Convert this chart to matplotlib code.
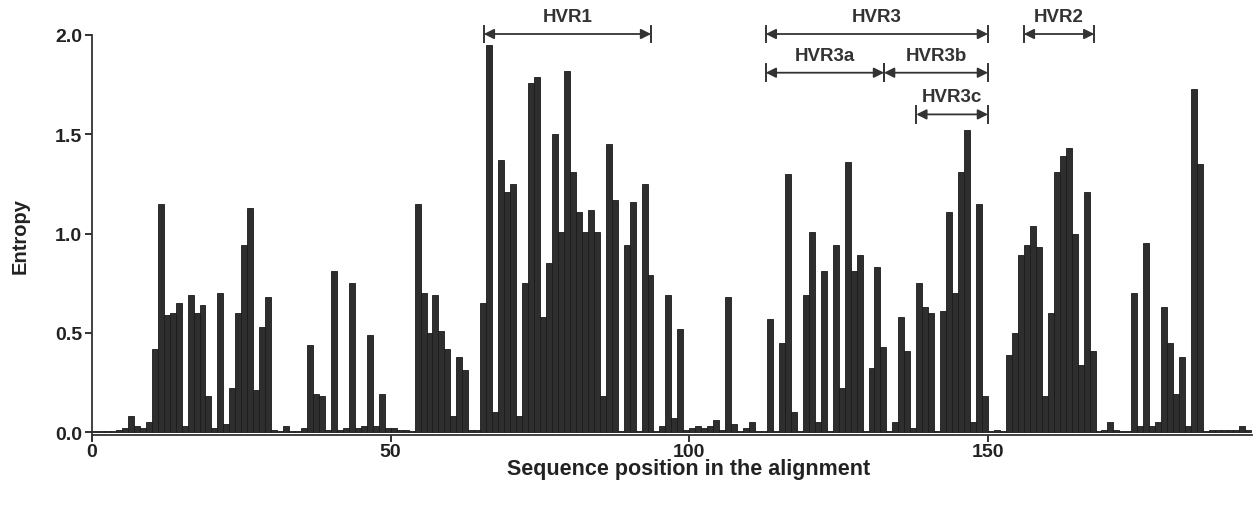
import matplotlib
matplotlib.use("Agg")
import matplotlib.pyplot as plt
import numpy as np

plt.rcParams['font.family'] = ['Liberation Sans', 'DejaVu Sans']
plt.rcParams['font.weight'] = 'bold'

# Entropy per alignment position (bar k spans [k, k+1])
entropy = [
    0.005, 0.005, 0.005, 0.005, 0.01, 0.02, 0.08, 0.03, 0.02, 0.05,   # 0-9
    0.42, 1.15, 0.59, 0.60, 0.65, 0.03, 0.69, 0.60, 0.64, 0.18,       # 10-19
    0.02, 0.70, 0.04, 0.22, 0.60, 0.94, 1.13, 0.21, 0.53, 0.68,       # 20-29
    0.01, 0.005, 0.03, 0.005, 0.005, 0.02, 0.44, 0.19, 0.18, 0.01,    # 30-39
    0.81, 0.01, 0.02, 0.75, 0.02, 0.03, 0.49, 0.03, 0.19, 0.02,       # 40-49
    0.02, 0.01, 0.01, 0.005, 1.15, 0.70, 0.50, 0.69, 0.51, 0.42,      # 50-59
    0.08, 0.38, 0.31, 0.01, 0.01, 0.65, 1.95, 0.10, 1.37, 1.21,       # 60-69
    1.25, 0.08, 0.75, 1.76, 1.79, 0.58, 0.85, 1.50, 1.01, 1.82,       # 70-79
    1.31, 1.11, 1.01, 1.12, 1.01, 0.18, 1.45, 1.17, 0.005, 0.94,      # 80-89
    1.16, 0.005, 1.25, 0.79, 0.005, 0.03, 0.69, 0.07, 0.52, 0.01,     # 90-99
    0.02, 0.03, 0.02, 0.03, 0.06, 0.01, 0.68, 0.04, 0.005, 0.02,      # 100-109
    0.05, 0.005, 0.005, 0.57, 0.005, 0.45, 1.30, 0.10, 0.005, 0.69,   # 110-119
    1.01, 0.05, 0.81, 0.005, 0.94, 0.22, 1.36, 0.81, 0.89, 0.005,     # 120-129
    0.32, 0.83, 0.43, 0.005, 0.05, 0.58, 0.41, 0.02, 0.75, 0.63,      # 130-139
    0.60, 0.005, 0.61, 1.11, 0.70, 1.31, 1.52, 0.05, 1.15, 0.18,      # 140-149
    0.005, 0.01, 0.005, 0.39, 0.50, 0.89, 0.94, 1.04, 0.93, 0.18,     # 150-159
    0.60, 1.31, 1.39, 1.43, 1.00, 0.34, 1.21, 0.41, 0.005, 0.01,      # 160-169
    0.05, 0.01, 0.005, 0.005, 0.70, 0.03, 0.95, 0.03, 0.05, 0.63,     # 170-179
    0.45, 0.19, 0.38, 0.03, 1.73, 1.35, 0.005, 0.01, 0.01, 0.01,      # 180-189
    0.01, 0.01, 0.03, 0.01,                                           # 190-193
]
positions = np.arange(len(entropy))

xticks = [0, 50, 100, 150]
yticks = [0.0, 0.5, 1.0, 1.5, 2.0]

# Hypervariable regions: label, start, end, arrow level
regions = ["HVR1", "HVR3", "HVR3a", "HVR3b", "HVR3c", "HVR2"]
reg_start = [65.6, 112.8, 112.8, 132.6, 138.0, 156.0]
reg_end = [93.6, 150.0, 132.6, 150.0, 150.0, 167.8]
reg_level = [2.005, 2.005, 1.81, 1.81, 1.60, 2.005]

fig = plt.figure(figsize=(12.59, 5.10), dpi=100)
ax = fig.add_axes([92 / 1259, 1 - 436 / 510, (1252 - 92) / 1259, 400 / 510])

ax.bar(positions, entropy, width=1.0, align='edge', color='#2e2e2e',
       edgecolor='#1a1a1a', linewidth=0.6, zorder=2)

ax.set_xlim(0, 194.2)
ax.set_ylim(-0.015, 2.0)
ax.set_xticks(xticks)
ax.set_yticks(yticks)
ax.set_yticklabels([f"{v:.1f}" for v in yticks])
ax.tick_params(axis='both', direction='out', length=5, width=1.3,
               labelsize=14, colors='#222222')
ax.tick_params(axis='x', pad=1)
ax.tick_params(axis='y', pad=2)
for lab in ax.get_xticklabels() + ax.get_yticklabels():
    lab.set_fontweight('bold')
for s in ['top', 'right']:
    ax.spines[s].set_visible(False)
for s in ['left', 'bottom']:
    ax.spines[s].set_linewidth(1.3)
    ax.spines[s].set_color('#333333')

ax.set_xlabel("Sequence position in the alignment", fontsize=15.5,
              fontweight='bold', color='#222222')
ax.xaxis.set_label_coords((689 - 92) / 1160, -(459 - 436) / 400)
ax.xaxis.label.set_va('top')
ax.set_ylabel("Entropy", fontsize=14.5, fontweight='bold', color='#222222')
ax.yaxis.set_label_coords(-(92 - 20) / 1160, 0.5)
ax.yaxis.label.set_va('center')

bar_h = 0.042
for lab, x0, x1, yl in zip(regions, reg_start, reg_end, reg_level):
    ax.annotate("", xy=(x0, yl), xytext=(x1, yl), xycoords='data',
                arrowprops=dict(arrowstyle='<|-|>', color='#333333', lw=1.3,
                                mutation_scale=15, shrinkA=0, shrinkB=0),
                annotation_clip=False)
    for xe in (x0, x1):
        ax.plot([xe, xe], [yl - bar_h, yl + bar_h], color='#333333', lw=1.4,
                clip_on=False)
    ax.text((x0 + x1) / 2, yl + 0.045, lab, ha='center', va='bottom',
            fontsize=13.5, fontweight='bold', color='#333333', clip_on=False)

fig.savefig("out.png", dpi=100)
